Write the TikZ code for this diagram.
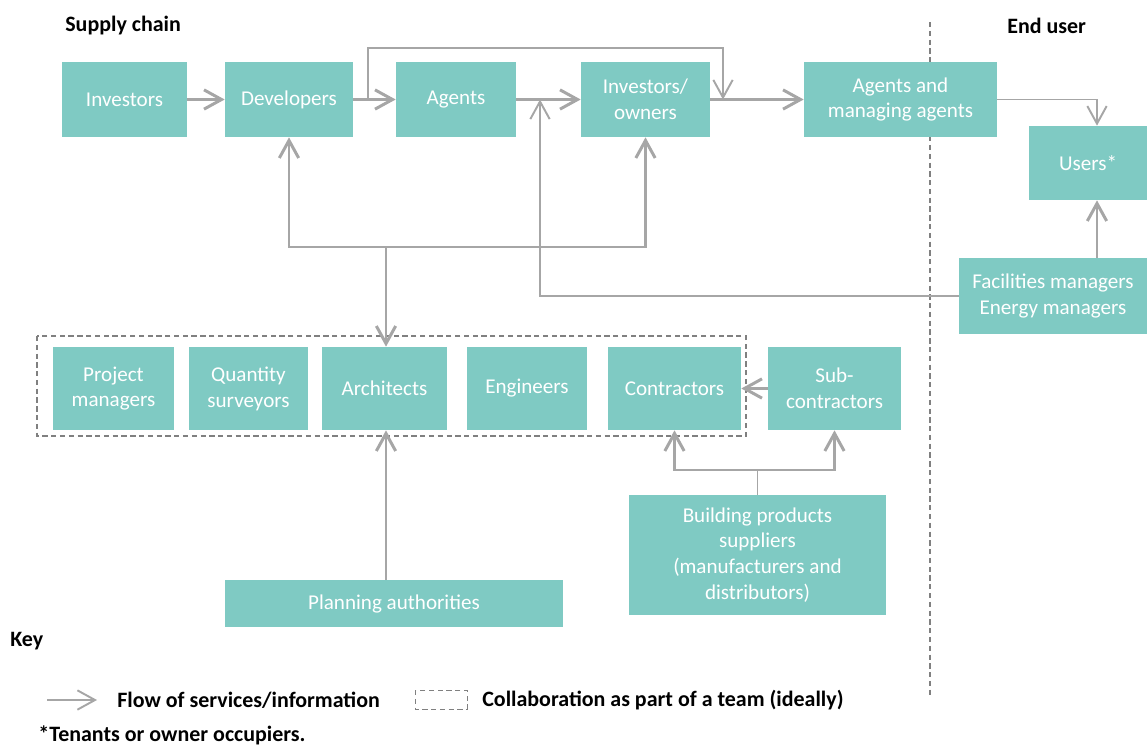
\documentclass[tikz,border=0pt]{standalone}
\usepackage{fontspec}
\setmainfont{Carlito}
\usetikzlibrary{arrows.meta}

\definecolor{tealbox}{RGB}{127,202,195}
\definecolor{flowgray}{RGB}{166,166,166}
\definecolor{dashgray}{RGB}{128,128,128}

\tikzset{
	box/.style={fill=tealbox,text=white,align=center,inner sep=0pt,font=\fontsize{12}{14.7}\selectfont},
	flow/.style={draw=flowgray,line width=1.7pt,-{Straight Barb[length=10pt,width=11pt]}},
	thinflow/.style={draw=flowgray,line width=1.1pt,-{Straight Barb[length=10pt,width=11pt]}},
	thinline/.style={draw=flowgray,line width=1.1pt},
	team/.style={draw=dashgray,line width=0.7pt,dash pattern=on 3pt off 2pt},
	heading/.style={font=\fontsize{12.5}{15}\selectfont\bfseries,anchor=west,inner sep=0pt}
}

\begin{document}
\begin{tikzpicture}[x=0.02cm,y=-0.02cm]
		\useasboundingbox (0,0) rectangle (1147,747);
		
		\draw[team] (930,22) -- (930,698);   % supply chain / end user divide
		
		\node[heading] (supply) at (65,26) {Supply chain};
		\node[heading] (enduser) at (1007,26) {End user};
		
		% top row
		\node[box,minimum width=2.5cm,minimum height=1.5cm] (inv) at (124.5,99.5) {Investors};
		\node[box,minimum width=2.56cm,minimum height=1.5cm] (dev) at (289,99.5) {Developers};
		\node[box,minimum width=2.4cm,minimum height=1.5cm] (agt) at (456,99.5) {Agents};
		\node[box,minimum width=2.58cm,minimum height=1.5cm] (own) at (645.5,99.5) {Investors/\\owners};
		\node[box,minimum width=3.86cm,minimum height=1.5cm] (mag) at (900.5,99.5) {Agents and\\managing agents};
		
		% end user side
		\node[box,minimum width=2.36cm,minimum height=1.48cm] (usr) at (1088,163) {Users*};
		\node[box,minimum width=3.76cm,minimum height=1.52cm] (fac) at (1053,296) {Facilities managers\\Energy managers};
		
		% team
		\node[box,minimum width=2.42cm,minimum height=1.66cm] (pm) at (113.5,388.5) {Project\\managers};
		\node[box,minimum width=2.38cm,minimum height=1.66cm] (qs) at (248.5,388.5) {Quantity\\surveyors};
		\node[box,minimum width=2.5cm,minimum height=1.66cm] (arc) at (384.5,388.5) {Architects};
		\node[box,minimum width=2.4cm,minimum height=1.66cm] (eng) at (527,388.5) {Engineers};
		\node[box,minimum width=2.66cm,minimum height=1.66cm] (con) at (674.5,388.5) {Contractors};
		\node[box,minimum width=2.66cm,minimum height=1.66cm] (sub) at (834.5,388.5) {Sub-\\contractors};
		
		\node[box,minimum width=6.76cm,minimum height=0.94cm] (pla) at (394,603.5) {Planning authorities};
		\node[box,minimum width=5.14cm,minimum height=2.4cm] (bps) at (757.5,555) {Building products\\suppliers\\(manufacturers and\\distributors)};
		
		\draw[team] (37,336) rectangle (746,436);
		
		\coordinate (split) at (368,99.5);
		\coordinate (loop) at (545,48);
		\coordinate (merge) at (723,99.5);
		\coordinate (join) at (540,99.5);
		\coordinate (hub) at (386,247);
		\coordinate (fork) at (757.5,470);
		\coordinate (usrN) at ([xshift=0.18cm]usr.north);
		\coordinate (usrS) at ([xshift=0.18cm]usr.south);
		
		\draw[flow] (inv) -- (dev);
		\draw[flow] (dev) -- (agt);
		\draw[flow] (agt) -- (own);
		\draw[flow] (own) -- (mag);
		\draw[thinline] (split) |- (loop);
		\draw[thinflow] (loop) -| (merge);
		\draw[thinflow] (mag.east) -| (usrN);
		\draw[flow] (fac.north -| usrS) -- (usrS);
		\draw[thinflow] (fac.west) -| (join);
		
		\draw[flow] (hub) -| (dev.south);
		\draw[flow] (hub) -| (own.south);
		\draw[flow] (hub) -- (hub |- arc.north);
		\draw[flow] (pla.north -| hub) -- (arc.south -| hub);
		\draw[flow] (sub.west) -- (con.east);
		\draw[thinline] (bps.north) -- (fork);
		\draw[flow] (fork) -| (con.south);
		\draw[flow] (fork) -| (sub.south);
		
		% key
		\node[heading] (key) at (10,641) {Key};
		\coordinate (keyA) at (47,700);
		\coordinate (keyB) at (97,700);
		\draw[thinflow] (keyA) -- (keyB);
		\node[heading] (keyflow) at (117,700) {Flow of services/information};
		\draw[team,line width=0.5pt] (415,690) rectangle (467,709);
		\node[heading] (keyteam) at (482,700) {Collaboration as part of a team (ideally)};
		\node[heading] (note) at (38,735) {*Tenants or owner occupiers.};
	
	\end{tikzpicture}
\end{document}
